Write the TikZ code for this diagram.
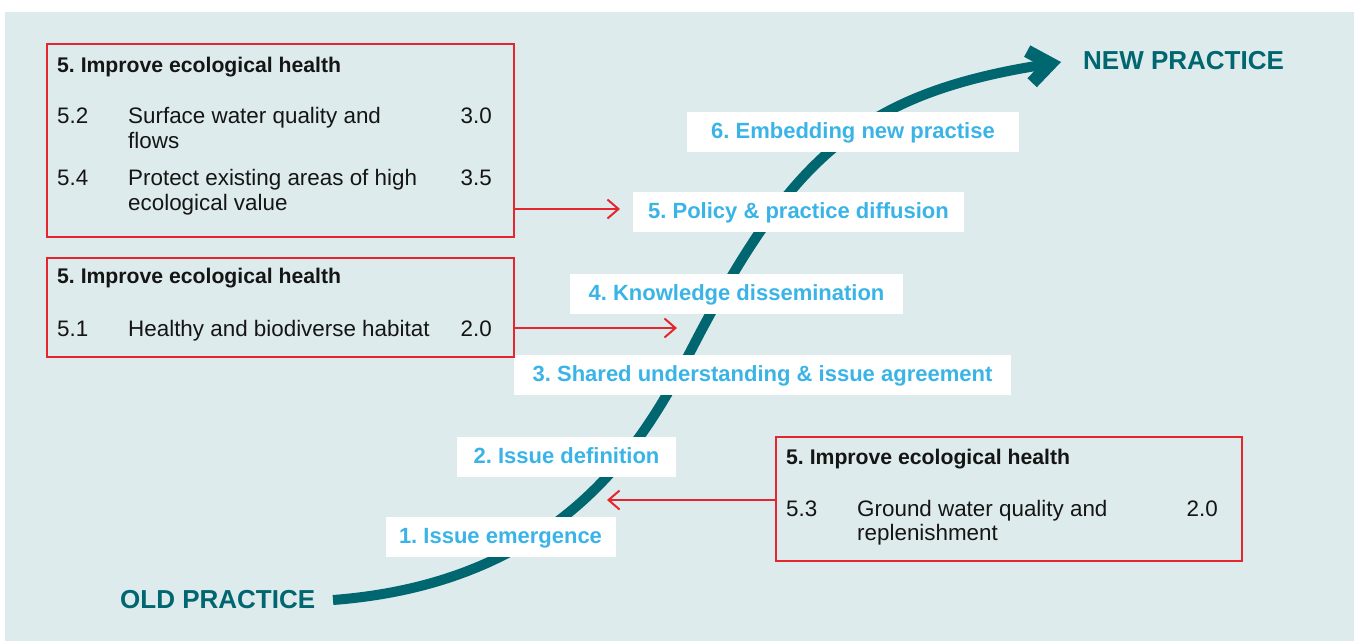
\documentclass[tikz,border=0pt]{standalone}
\usepackage{fontspec}
\setmainfont{Liberation Sans}
\usepackage{xcolor}
\usetikzlibrary{arrows.meta}
\frenchspacing

\definecolor{panel}{HTML}{DDEBEC}
\definecolor{curvecol}{HTML}{00666F}
\definecolor{boxred}{HTML}{E6262F}
\definecolor{stagecol}{HTML}{3AB4E6}
\definecolor{inktext}{HTML}{151515}

\begin{document}
\begin{tikzpicture}[
		x=1pt,y=-1pt,
		goalbox/.style={
			draw=boxred,
			line width=2pt,
			rectangle,
			inner sep=0pt,
			outer sep=0pt
		},
		goalhead/.style={anchor=base west, inner sep=0pt, text=inktext, font=\bfseries\fontsize{21.2}{25}\selectfont},
		goalitem/.style={anchor=base west, inner sep=0pt, text=inktext, font=\fontsize{22.4}{25}\selectfont},
		goalscore/.style={goalitem, anchor=base east},
		stagebox/.style={
			fill=white,
			rectangle,
			inner sep=0pt,
			minimum height=40pt,
			text height=16pt,
			text depth=3pt,
			text=stagecol,
			font=\bfseries\fontsize{22}{26}\selectfont
		},
		practice/.style={anchor=base west, inner sep=0pt, text=curvecol, font=\bfseries\fontsize{26}{30}\selectfont},
		feedlink/.style={draw=boxred, line width=2pt, -{Straight Barb[length=11pt,width=19pt]}}
		]
		% Page and panel
		\useasboundingbox (0,0) rectangle (1354,641);
		\fill[white] (0,0) rectangle (1354,641);
		\fill[panel] (5,12) rectangle (1354,641);
		
		% Transition curve
		\coordinate (OLD) at (333,600);
		\coordinate (TURN) at (700,333);
		\coordinate (NEW) at (1061,62);
		\draw[curvecol, line width=10pt, line cap=butt,
		-{Straight Barb[length=21pt,width=32pt,line width=13pt,line cap=butt,line join=miter]}]
		(OLD) .. controls (584,581) and (658,412.5) .. (TURN)
		.. controls (794,156) and (863,93) .. (NEW);
		
		\node[practice] (OP) at (120,608) {OLD PRACTICE};
		\node[practice] (NP) at (1083,69) {NEW PRACTICE};
		
		% Stages along the curve
		\node[stagebox, minimum width=230pt] (S1) at (500.5,536.5) {1. Issue emergence};
		\node[stagebox, minimum width=219pt] (S2) at (566.5,457) {2. Issue definition};
		\node[stagebox, minimum width=497pt] (S3) at (762.5,374.5) {3. Shared understanding \& issue agreement};
		\node[stagebox, minimum width=333pt] (S4) at (736.5,293.5) {4. Knowledge dissemination};
		\node[stagebox, minimum width=331pt] (S5) at (798.5,212) {5. Policy \& practice diffusion};
		\node[stagebox, minimum width=332pt] (S6) at (853,132) {6. Embedding new practise};
		
		% Outcome boxes
		\node[goalbox, minimum width=467pt, minimum height=193pt] (G1) at (280.5,140.5) {};
		\node[goalhead] (G1h) at (57,72) {5. Improve ecological health};
		\node[goalitem] (G1a) at (57,123) {5.2};
		\node[goalitem] (G1b) at (128,123) {Surface water quality and};
		\node[goalitem] (G1c) at (128,148) {flows};
		\node[goalscore] (G1d) at (492,123) {3.0};
		\node[goalitem] (G1e) at (57,185) {5.4};
		\node[goalitem] (G1f) at (128,185) {Protect existing areas of high};
		\node[goalitem] (G1g) at (128,210) {ecological value};
		\node[goalscore] (G1i) at (492,185) {3.5};
		
		\node[goalbox, minimum width=467pt, minimum height=99pt] (G2) at (280.5,307.5) {};
		\node[goalhead] (G2h) at (57,283) {5. Improve ecological health};
		\node[goalitem] (G2a) at (57,336) {5.1};
		\node[goalitem] (G2b) at (128,336) {Healthy and biodiverse habitat};
		\node[goalscore] (G2c) at (492,336) {2.0};
		
		\node[goalbox, minimum width=466pt, minimum height=124pt] (G3) at (1009,499) {};
		\node[goalhead] (G3h) at (786,464) {5. Improve ecological health};
		\node[goalitem] (G3a) at (786,516) {5.3};
		\node[goalitem] (G3b) at (857,516) {Ground water quality and};
		\node[goalitem] (G3c) at (857,540) {replenishment};
		\node[goalscore] (G3d) at (1218,516) {2.0};
		
		% Links from boxes to the curve
		\coordinate (T1) at (620,209);
		\coordinate (T2) at (677,328);
		\coordinate (T3) at (607,500);
		\draw[feedlink] (G1.east |- T1) -- (T1);
		\draw[feedlink] (G2.east |- T2) -- (T2);
		\draw[feedlink] (G3.west |- T3) -- (T3);
	\end{tikzpicture}
\end{document}
